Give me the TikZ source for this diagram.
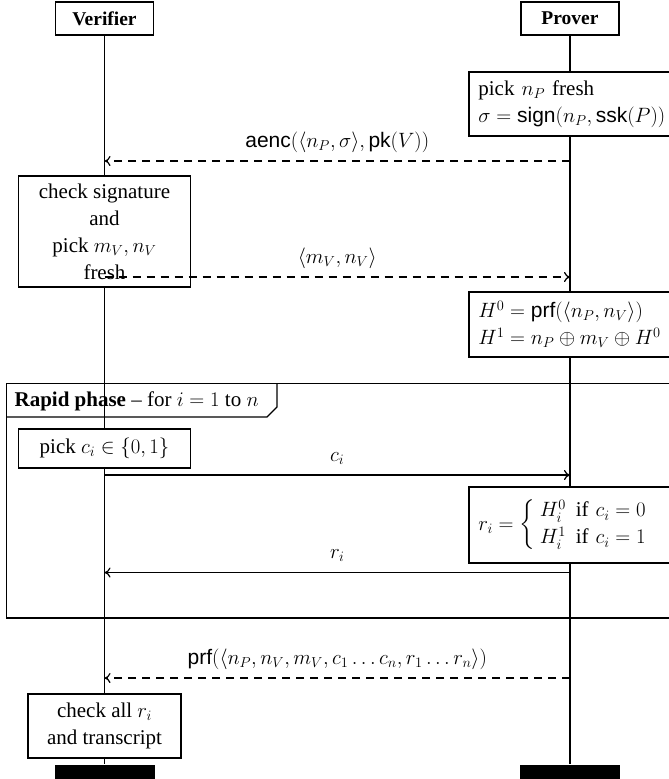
\documentclass[tikz,border=0pt]{standalone}
\usepackage{amsmath}
\usepackage{fontspec}
\setmainfont{Liberation Serif}
\setsansfont{Liberation Sans}
\usetikzlibrary{arrows.meta}
\begin{document}
\begin{tikzpicture}[x=1pt,y=-1pt,
  font=\fontsize{21}{27}\selectfont,
  line width=1.2pt,
  head/.style={draw, fill=white, font=\fontsize{19.5}{24}\selectfont\bfseries, minimum width=98pt, minimum height=33pt, inner sep=0pt},
  vbox/.style={draw, fill=white, align=center, inner sep=0pt, minimum width=172pt},
  pbox/.style={draw, fill=white, align=left, anchor=west, inner xsep=9.5pt, inner ysep=0pt, text width=240pt},
  bar/.style={fill=black, minimum width=100pt, minimum height=16pt, inner sep=0pt},
  msg/.style={-{To[length=6pt,width=10pt]}},
  dsh/.style={dash pattern=on 8pt off 6pt},
  lbl/.style={midway, anchor=base, yshift=14pt, inner sep=0pt}]
\useasboundingbox (0,0) rectangle (669,779);
\clip (0,0) rectangle (669,779);

% headers and end bars
\node[head] (V) at (104.5,18.5) {Verifier};
\node[head] (P) at (570,18.5) {Prover};
\node[bar] (Vend) at (104.5,773) {};
\node[bar] (Pend) at (570,773) {};

% rapid phase frame
\draw (6.7,383.5) rectangle (700,618);
\draw (6.7,417) -- (267,417) -- (277,407) -- (277,383.5);
\node[anchor=base west, inner sep=0pt] (rp) at (14,406) {\textbf{Rapid phase} -- for $i = 1$ to $n$};

% lifelines
\draw (V.south) -- (Vend.north);
\draw (P.south) -- (Pend.north);

% action boxes
\node[pbox, minimum height=64pt] (np) at (468.3,104) {pick $n_P$ fresh\\ $\sigma = \mathsf{sign}(n_P, \mathsf{ssk}(P))$};
\node[vbox, minimum height=111pt] (chk) at (104.5,231.5) {check signature\\ and\\ pick $m_V, n_V$\\ fresh};
\node[pbox, minimum height=65pt] (H) at (468.3,324.5) {$H^0 = \mathsf{prf}(\langle n_P, n_V\rangle)$\\ $H^1 = n_P \oplus m_V \oplus H^0$};
\node[vbox, minimum height=39pt] (pc) at (104.5,448.5) {pick $c_i \in \{0, 1\}$};
\node[pbox, minimum height=76pt] (ri) at (468.3,525) {$r_i = \left\{\begin{array}{ll} H^0_i & \text{if } c_i = 0\\ H^1_i & \text{if } c_i = 1\end{array}\right.$};
\node[vbox, minimum width=153pt, minimum height=64pt] (fin) at (104.5,726) {check all $r_i$\\ and transcript};

% message end points on the lifelines
\coordinate (v1) at (104.5,161); \coordinate (p1) at (570,161);
\coordinate (v2) at (104.5,277); \coordinate (p2) at (570,277);
\coordinate (v3) at (104.5,475); \coordinate (p3) at (570,475);
\coordinate (v4) at (104.5,572.5); \coordinate (p4) at (570,572.5);
\coordinate (v5) at (104.5,678); \coordinate (p5) at (570,678);

% messages
\draw[msg, dsh] (p1) -- (v1) node[lbl] {$\mathsf{aenc}(\langle n_P, \sigma\rangle, \mathsf{pk}(V))$};
\draw[msg, dsh] (v2) -- (p2) node[lbl] {$\langle m_V, n_V\rangle$};
\draw[msg] (v3) -- (p3) node[lbl] {$c_i$};
\draw[msg] (p4) -- (v4) node[lbl] {$r_i$};
\draw[msg, dsh] (p5) -- (v5) node[lbl] {$\mathsf{prf}(\langle n_P, n_V, m_V, c_1 \ldots c_n, r_1 \ldots r_n\rangle)$};
\end{tikzpicture}
\end{document}
